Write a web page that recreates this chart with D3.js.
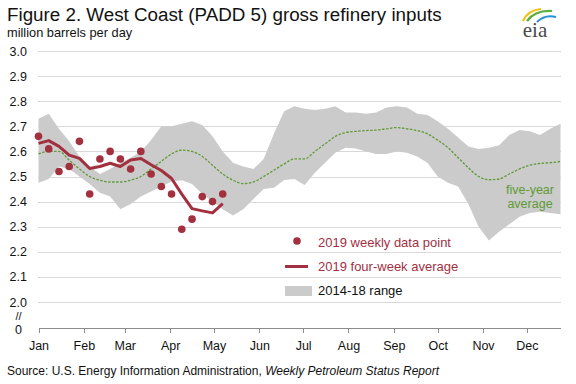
<!DOCTYPE html>
<meta charset="utf-8">
<html>
<head>
    <style>
        body {
            margin: 0;
            background: #fff;
            font-family: 'Liberation Sans', Arial, sans-serif;
        }
        .grid line { stroke: #d9d9d9; stroke-width: 1; shape-rendering: crispEdges; }
        .xaxis path, .xaxis line { stroke: #8c8c8c; shape-rendering: crispEdges; }
        .xaxis text, .ylab { font-size: 12.5px; fill: #111; }
    </style>
    <script src="https://cdn.jsdelivr.net/npm/d3@7"></script>
</head>
<body>
<svg id="chart"></svg>
<script>

    // 2019 weekly inputs (weeks 1-19)
    var weekly2019 = [2.66, 2.61, 2.52, 2.54, 2.64, 2.43, 2.57, 2.60, 2.57, 2.53,
        2.60, 2.51, 2.46, 2.43, 2.29, 2.33, 2.42, 2.40, 2.43];

    // 2019 four-week average
    var avg4wk2019 = [2.632, 2.643, 2.62, 2.585, 2.572, 2.532, 2.54, 2.553, 2.54, 2.566,
        2.572, 2.547, 2.524, 2.492, 2.43, 2.372, 2.363, 2.355, 2.392];

    // five-year average, weeks 1-52
    var avg5yr = [2.59, 2.60, 2.60, 2.565, 2.53, 2.50, 2.485, 2.478, 2.478, 2.485,
        2.50, 2.53, 2.56, 2.59, 2.605, 2.60, 2.58, 2.545, 2.51, 2.485,
        2.472, 2.478, 2.50, 2.525, 2.55, 2.57, 2.57, 2.60, 2.63, 2.66,
        2.675, 2.68, 2.683, 2.685, 2.69, 2.695, 2.69, 2.683, 2.67, 2.645,
        2.615, 2.575, 2.535, 2.50, 2.487, 2.49, 2.51, 2.53, 2.545, 2.552,
        2.555, 2.56];

    // 2014-18 range
    var rangeHigh = [2.73, 2.75, 2.69, 2.64, 2.58, 2.54, 2.51, 2.53, 2.555, 2.575,
        2.60, 2.645, 2.70, 2.70, 2.71, 2.72, 2.705, 2.66, 2.60, 2.555,
        2.54, 2.53, 2.57, 2.67, 2.76, 2.78, 2.77, 2.765, 2.77, 2.78,
        2.755, 2.755, 2.75, 2.755, 2.775, 2.78, 2.775, 2.75, 2.745, 2.72,
        2.69, 2.655, 2.62, 2.61, 2.615, 2.625, 2.665, 2.685, 2.68, 2.665,
        2.69, 2.71];
    var rangeLow = [2.475, 2.49, 2.54, 2.53, 2.50, 2.47, 2.435, 2.42, 2.37, 2.39,
        2.42, 2.44, 2.46, 2.48, 2.485, 2.47, 2.43, 2.40, 2.37, 2.345,
        2.37, 2.41, 2.45, 2.455, 2.486, 2.49, 2.466, 2.515, 2.555, 2.595,
        2.615, 2.612, 2.60, 2.59, 2.59, 2.60, 2.595, 2.58, 2.555, 2.50,
        2.475, 2.46, 2.39, 2.30, 2.245, 2.28, 2.31, 2.34, 2.355, 2.36,
        2.355, 2.35];

    var yTicks = [2.0, 2.1, 2.2, 2.3, 2.4, 2.5, 2.6, 2.7, 2.8, 2.9, 3.0];

    var W = 576, H = 384;
    var start = new Date(2019, 0, 1);
    function wk(i) { return d3.timeDay.offset(start, 7 * i); }

    var svg = d3.select("#chart").attr("width", W).attr("height", H);

    var x = d3.scaleTime()
        .domain([start, new Date(2019, 11, 24)])
        .range([38.5, 560.5]);
    var y = d3.scaleLinear().domain([2.0, 3.0]).range([302, 51]);

    // gridlines
    svg.append("g").attr("class", "grid")
        .selectAll("line").data(yTicks).enter().append("line")
        .attr("x1", 38).attr("x2", 561)
        .attr("y1", function (d) { return Math.round(y(d)) + 0.5; })
        .attr("y2", function (d) { return Math.round(y(d)) + 0.5; });

    svg.append("g").selectAll("text").data(yTicks).enter().append("text")
        .attr("class", "ylab")
        .attr("x", 27).attr("y", function (d) { return y(d) + 4.5; })
        .attr("text-anchor", "end")
        .text(function (d) { return d.toFixed(1); });

    // axis break + zero
    svg.append("text").attr("class", "ylab").attr("x", 18.5).attr("y", 320)
        .attr("text-anchor", "middle").style("font-size", "11px").text("//");
    svg.append("text").attr("class", "ylab").attr("x", 18.5).attr("y", 334)
        .attr("text-anchor", "middle").text("0");

    // 2014-18 range band
    var area = d3.area()
        .x(function (d, i) { return x(wk(i)); })
        .y0(function (d, i) { return y(rangeLow[i]); })
        .y1(function (d) { return y(d); });
    svg.append("path").datum(rangeHigh)
        .attr("d", area).attr("fill", "#cbcbcb");

    // five-year average
    var line = d3.line()
        .x(function (d, i) { return x(wk(i)); })
        .y(function (d) { return y(d); })
        .curve(d3.curveMonotoneX);
    svg.append("path").datum(avg5yr)
        .attr("d", line).attr("fill", "none")
        .attr("stroke", "#5f9a35").attr("stroke-width", 1.3)
        .attr("stroke-dasharray", "2.5,1.5");

    // four-week average
    svg.append("path").datum(avg4wk2019)
        .attr("d", d3.line().x(function (d, i) { return x(wk(i)); }).y(function (d) { return y(d); }))
        .attr("fill", "none").attr("stroke", "#a3303f").attr("stroke-width", 3)
        .attr("stroke-linejoin", "round");

    // weekly points
    svg.append("g").selectAll("circle").data(weekly2019).enter().append("circle")
        .attr("cx", function (d, i) { return x(wk(i)); })
        .attr("cy", function (d) { return y(d); })
        .attr("r", 3.8).attr("fill", "#a3303f");

    // x axis at the "0" baseline
    svg.append("g").attr("class", "xaxis")
        .attr("transform", "translate(0,328.5)")
        .call(d3.axisBottom(x)
            .tickValues(d3.timeMonth.range(start, new Date(2019, 11, 2)))
            .tickFormat(d3.timeFormat("%b"))
            .tickSizeInner(4).tickSizeOuter(0).tickPadding(9))
        .call(function (g) { g.select(".domain").attr("d", "M38.5,0H560.5"); });

    // five-year label
    svg.append("text").attr("x", 530).attr("y", 194).attr("text-anchor", "middle")
        .style("font-size", "12.5px").attr("fill", "#5f9a35").text("five-year");
    svg.append("text").attr("x", 530).attr("y", 208).attr("text-anchor", "middle")
        .style("font-size", "12.5px").attr("fill", "#5f9a35").text("average");

    // legend
    var lg = svg.append("g").style("font-size", "13px");
    lg.append("circle").attr("cx", 297).attr("cy", 241).attr("r", 3.8).attr("fill", "#a3303f");
    lg.append("text").attr("x", 318).attr("y", 247).attr("fill", "#a3303f").text("2019 weekly data point");
    lg.append("line").attr("x1", 285).attr("x2", 308).attr("y1", 266.5).attr("y2", 266.5)
        .attr("stroke", "#a3303f").attr("stroke-width", 3);
    lg.append("text").attr("x", 318).attr("y", 271).attr("fill", "#a3303f").text("2019 four-week  average");
    lg.append("rect").attr("x", 285).attr("y", 286).attr("width", 27).attr("height", 10).attr("fill", "#cbcbcb");
    lg.append("text").attr("x", 318).attr("y", 295).attr("fill", "#111").text("2014-18  range");

    // titles
    svg.append("text").attr("x", 7).attr("y", 21).style("font-size", "18.8px").attr("fill", "#111")
        .text("Figure 2. West Coast (PADD 5) gross refinery inputs");
    svg.append("text").attr("x", 7).attr("y", 37).style("font-size", "12.8px").attr("fill", "#111")
        .text("million barrels per day");

    var src = svg.append("text").attr("x", 7).attr("y", 375).style("font-size", "12px").attr("fill", "#111");
    src.append("tspan").text("Source: U.S. Energy Information Administration, ");
    src.append("tspan").style("font-style", "italic").text("Weekly Petroleum Status Report");

    // eia logo
    var logo = svg.append("g");
    logo.append("path").attr("d", "M523,21 Q528,10 541,9").attr("fill", "none").attr("stroke", "#f2c21b").attr("stroke-width", 2.2);
    logo.append("path").attr("d", "M527,21 Q535,10 552,11").attr("fill", "none").attr("stroke", "#5fae3c").attr("stroke-width", 2.2);
    logo.append("path").attr("d", "M537,22 Q545,14 556,17").attr("fill", "none").attr("stroke", "#2b8fd6").attr("stroke-width", 2);
    logo.append("text").attr("x", 535).attr("y", 37).attr("text-anchor", "middle")
        .style("font-family", "'Liberation Serif', serif").style("font-size", "21px")
        .attr("fill", "#4a4a4a").text("eia");

</script>
</body>
</html>
